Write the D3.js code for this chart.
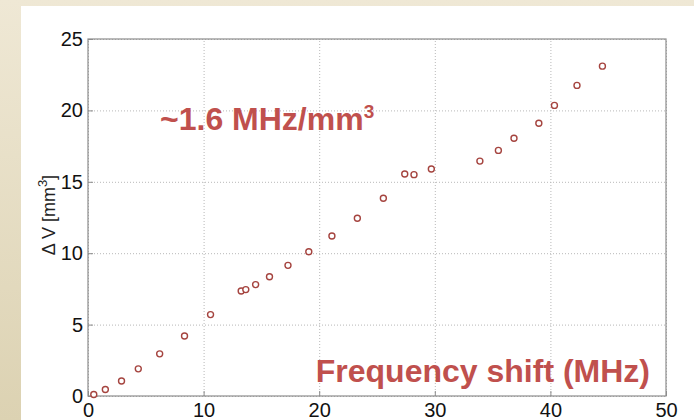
<!DOCTYPE html>
<html>
<head>
<meta charset="utf-8">
<script src="https://cdn.jsdelivr.net/npm/d3@7"></script>
<style>
  html, body { margin: 0; padding: 0; }
  body { width: 694px; height: 420px; overflow: hidden; }
  text { font-family: "Liberation Sans", Arial, sans-serif; }
</style>
</head>
<body>
<div id="chart"></div>
<script>
// measured frequency shift (MHz) vs volume change (mm^3)
var freqShift = [0.5, 1.5, 2.9, 4.35, 6.2, 8.35, 10.6, 13.25, 13.65, 14.5, 15.7, 17.3, 19.1,
                 21.1, 23.3, 25.55, 27.4, 28.2, 29.7, 33.9, 35.5, 36.85, 39.0, 40.35, 42.3, 44.5];
var deltaV    = [0.1, 0.45, 1.05, 1.9, 2.95, 4.2, 5.7, 7.35, 7.45, 7.8, 8.35, 9.15, 10.1,
                 11.2, 12.45, 13.85, 15.55, 15.5, 15.9, 16.45, 17.2, 18.05, 19.1, 20.35, 21.75, 23.1];
var xTicks = [0, 10, 20, 30, 40, 50];
var yTicks = [0, 5, 10, 15, 20, 25];

var data = freqShift.map(function (f, i) { return { f: f, v: deltaV[i] }; });

var svgWidth = 694, svgHeight = 420;
var margin = { top: 39, right: 28, bottom: 24, left: 88 };
var width = svgWidth - margin.left - margin.right;
var height = svgHeight - margin.top - margin.bottom;

var svg = d3.select("#chart").append("svg")
    .attr("width", svgWidth)
    .attr("height", svgHeight);

// beige slide background
var defs = svg.append("defs");
var grad = defs.append("linearGradient").attr("id", "bg")
    .attr("x1", 0).attr("y1", 0).attr("x2", 0).attr("y2", 1);
grad.append("stop").attr("offset", "0%").attr("stop-color", "#efe8d5");
grad.append("stop").attr("offset", "100%").attr("stop-color", "#dcd2b2");

svg.append("rect").attr("width", svgWidth).attr("height", svgHeight).attr("fill", "url(#bg)");
svg.append("rect").attr("x", 21).attr("y", 6)
    .attr("width", svgWidth - 21).attr("height", svgHeight - 6).attr("fill", "#ffffff");

var g = svg.append("g").attr("transform", "translate(" + margin.left + "," + margin.top + ")");

var x = d3.scaleLinear().domain([0, 50]).range([0, width]);
var y = d3.scaleLinear().domain([0, 25]).range([height, 0]);

// gridlines
g.append("g")
    .attr("class", "grid")
    .attr("transform", "translate(0," + height + ")")
    .call(d3.axisBottom(x).tickValues(xTicks).tickSize(-height).tickFormat(""))
    .call(function (s) { s.select(".domain").remove(); });
g.append("g")
    .attr("class", "grid")
    .call(d3.axisLeft(y).tickValues(yTicks).tickSize(-width).tickFormat(""))
    .call(function (s) { s.select(".domain").remove(); });
g.selectAll(".grid line")
    .attr("stroke", "#b8b8b8")
    .attr("stroke-width", 1)
    .attr("stroke-dasharray", "1,2");

// box
g.append("rect")
    .attr("width", width).attr("height", height)
    .attr("fill", "none").attr("stroke", "#8c8c8c").attr("stroke-width", 1.2);

// axes (ticks pointing inward)
var xAxis = g.append("g")
    .attr("transform", "translate(0," + height + ")")
    .call(d3.axisBottom(x).tickValues(xTicks).tickSizeInner(-5).tickSizeOuter(0).tickPadding(7));
var yAxis = g.append("g")
    .call(d3.axisLeft(y).tickValues(yTicks).tickSizeInner(-5).tickSizeOuter(0).tickPadding(5));
g.selectAll(".domain").attr("stroke", "none");
xAxis.selectAll(".tick line").attr("stroke", "#8c8c8c");
yAxis.selectAll(".tick line").attr("stroke", "#8c8c8c");
xAxis.selectAll("text").attr("font-size", 20).attr("fill", "#111")
    .attr("font-family", "Liberation Sans, Arial, sans-serif");
yAxis.selectAll("text").attr("font-size", 20).attr("fill", "#111")
    .attr("font-family", "Liberation Sans, Arial, sans-serif");

// y-axis label
var yl = svg.append("text")
    .attr("transform", "translate(55,215) rotate(-90)")
    .attr("text-anchor", "middle")
    .attr("font-size", 18)
    .attr("fill", "#222");
yl.append("tspan").text("\u0394 V [mm");
yl.append("tspan").attr("dy", -8).attr("font-size", 13).text("3");
yl.append("tspan").attr("dy", 8).text("]");

// points
g.selectAll("circle.pt")
    .data(data)
    .enter().append("circle")
    .attr("class", "pt")
    .attr("cx", function (d) { return x(d.f); })
    .attr("cy", function (d) { return y(d.v); })
    .attr("r", 3)
    .attr("fill", "#fff")
    .attr("stroke", "#a5443f")
    .attr("stroke-width", 1.4);

// annotations
var red = "#c0504d";
var ann = svg.append("text")
    .attr("x", 160).attr("y", 130)
    .attr("font-size", 32).attr("font-weight", "bold").attr("fill", red);
ann.append("tspan").text("~1.6 MHz/mm");
ann.append("tspan").attr("dy", -12).attr("font-size", 19).text("3");

svg.append("text")
    .attr("x", 650).attr("y", 382)
    .attr("text-anchor", "end")
    .attr("font-size", 32).attr("font-weight", "bold").attr("fill", red)
    .text("Frequency shift (MHz)");
</script>
</body>
</html>
